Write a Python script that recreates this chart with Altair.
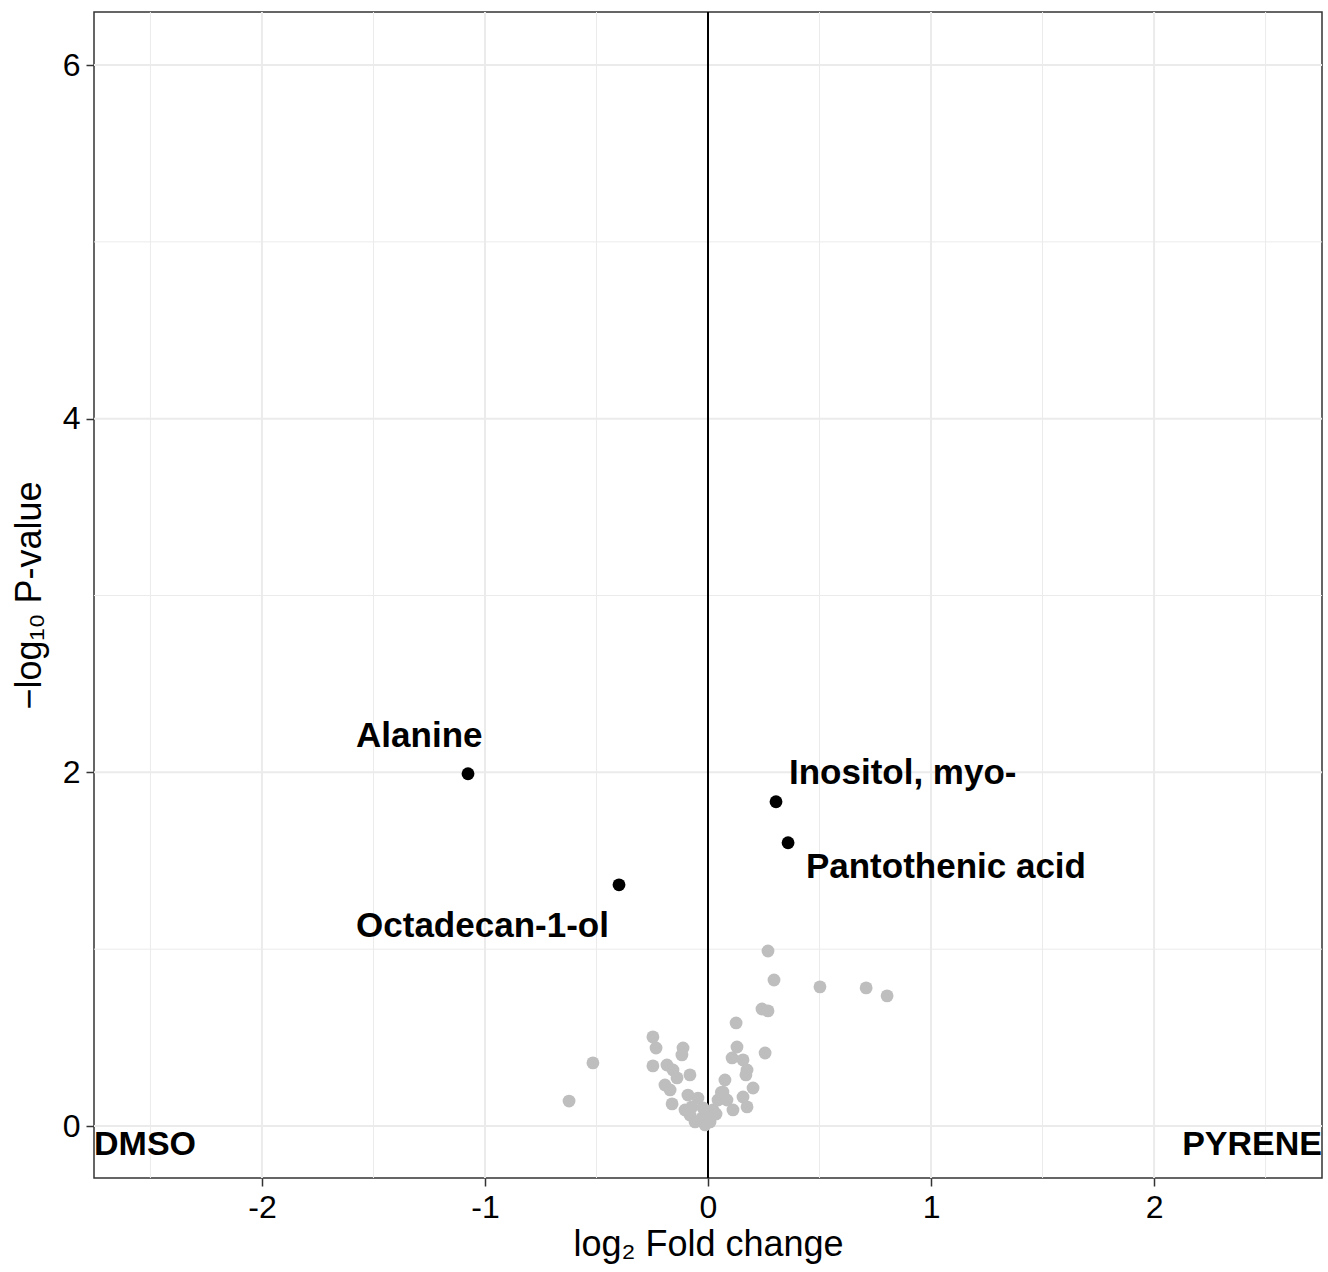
import altair as alt
import pandas as pd

# ---- data ----
gray_x = [-0.623, -0.516, -0.247, -0.233, -0.247, -0.112, -0.117, -0.184, -0.157, -0.081,
          -0.139, -0.193, -0.170, -0.161, -0.090, -0.045, -0.072, -0.081, -0.058, -0.027,
          -0.013, 0.000, 0.022, 0.045, 0.067, 0.076, 0.112, 0.126, 0.130, 0.108,
          0.157, 0.175, 0.170, 0.202, 0.157, 0.175, 0.256, 0.242, 0.269, 0.269,
          0.296, 0.502, 0.709, 0.803, -0.103, 0.009, 0.036, -0.022, 0.085, 0.060]
gray_y = [0.141, 0.357, 0.504, 0.441, 0.340, 0.441, 0.402, 0.345, 0.317, 0.289,
          0.272, 0.232, 0.204, 0.125, 0.175, 0.158, 0.108, 0.062, 0.023, 0.045,
          0.006, 0.051, 0.091, 0.147, 0.192, 0.260, 0.091, 0.583, 0.447, 0.385,
          0.374, 0.317, 0.289, 0.215, 0.164, 0.108, 0.413, 0.662, 0.651, 0.990,
          0.826, 0.787, 0.781, 0.736, 0.091, 0.023, 0.068, 0.102, 0.147, 0.190]

sig_names = ["Alanine", "Octadecan-1-ol", "Inositol, myo-", "Pantothenic acid"]
sig_x = [-1.076, -0.399, 0.305, 0.359]
sig_y = [1.992, 1.364, 1.834, 1.602]
label_x = [-1.578, -1.578, 0.363, 0.439]
label_y = [2.145, 1.070, 1.935, 1.403]

group_names = ["DMSO", "PYRENE"]
group_x = [-2.753, 2.753]
group_y = [-0.164, -0.164]

major_x = [-2, -1, 0, 1, 2]
minor_x = [-2.5, -1.5, -0.5, 0.5, 1.5, 2.5]
major_y = [0, 2, 4, 6]
minor_y = [1, 3, 5]

x_domain = [-2.753, 2.753]
y_domain = [-0.294, 6.30]

FONT = "Liberation Sans"

xs = alt.Scale(domain=x_domain, nice=False, zero=False)
ys = alt.Scale(domain=y_domain, nice=False, zero=False)

gray_df = pd.DataFrame({"x": gray_x, "y": gray_y})
sig_df = pd.DataFrame({"name": sig_names, "x": sig_x, "y": sig_y, "lx": label_x, "ly": label_y})
grp_df = pd.DataFrame({"name": group_names, "x": group_x, "y": group_y})

grid_minor_x = alt.Chart(pd.DataFrame({"v": minor_x})).mark_rule(
    color="#ebebeb", strokeWidth=1).encode(x=alt.X("v:Q", scale=xs))
grid_major_x = alt.Chart(pd.DataFrame({"v": major_x})).mark_rule(
    color="#ebebeb", strokeWidth=2).encode(x=alt.X("v:Q", scale=xs))
grid_minor_y = alt.Chart(pd.DataFrame({"v": minor_y})).mark_rule(
    color="#ebebeb", strokeWidth=1).encode(y=alt.Y("v:Q", scale=ys))
grid_major_y = alt.Chart(pd.DataFrame({"v": major_y})).mark_rule(
    color="#ebebeb", strokeWidth=2).encode(y=alt.Y("v:Q", scale=ys))

zero_line = alt.Chart(pd.DataFrame({"v": [0]})).mark_rule(
    color="black", strokeWidth=2).encode(x=alt.X("v:Q", scale=xs))

gray_pts = alt.Chart(gray_df).mark_circle(
    color="#bebebe", opacity=1, size=165).encode(
    x=alt.X("x:Q", scale=xs,
            axis=alt.Axis(values=major_x, title="log₂ Fold change", grid=False,
                          labelExpr="'' + datum.value")),
    y=alt.Y("y:Q", scale=ys,
            axis=alt.Axis(values=major_y, title="−log₁₀ P-value", grid=False,
                          labelExpr="'' + datum.value")),
)

sig_pts = alt.Chart(sig_df).mark_circle(color="black", opacity=1, size=165).encode(
    x=alt.X("x:Q", scale=xs), y=alt.Y("y:Q", scale=ys))

sig_labels = alt.Chart(sig_df).mark_text(
    font=FONT, fontWeight="bold", fontSize=35, align="left", baseline="alphabetic",
    color="black").encode(
    x=alt.X("lx:Q", scale=xs), y=alt.Y("ly:Q", scale=ys), text="name:N")

grp_left = alt.Chart(grp_df.iloc[[0]]).mark_text(
    font=FONT, fontWeight="bold", fontSize=34, align="left", baseline="alphabetic",
    color="black").encode(
    x=alt.X("x:Q", scale=xs), y=alt.Y("y:Q", scale=ys), text="name:N")
grp_right = alt.Chart(grp_df.iloc[[1]]).mark_text(
    font=FONT, fontWeight="bold", fontSize=34, align="right", baseline="alphabetic",
    color="black").encode(
    x=alt.X("x:Q", scale=xs), y=alt.Y("y:Q", scale=ys), text="name:N")

chart = alt.layer(
    grid_minor_x, grid_minor_y, grid_major_x, grid_major_y,
    zero_line, gray_pts, sig_pts, sig_labels, grp_left, grp_right
).properties(
    width=1228, height=1166,
    autosize=alt.AutoSizeParams(type="none"),
    padding={"left": 94, "top": 12, "right": 6, "bottom": 94},
).configure_view(
    stroke="#333333", strokeWidth=1.5
).configure_axis(
    labelFont=FONT, titleFont=FONT, labelFontSize=32, titleFontSize=36,
    labelColor="black", titleColor="black", titleFontWeight="normal",
    tickColor="#333333", tickSize=8, tickWidth=1.5, domain=False,
    labelPadding=6,
).configure_axisX(
    titlePadding=4
).configure_axisY(
    titlePadding=14
)

chart.save("out.html", embed_options={"renderer": "svg", "actions": False})
